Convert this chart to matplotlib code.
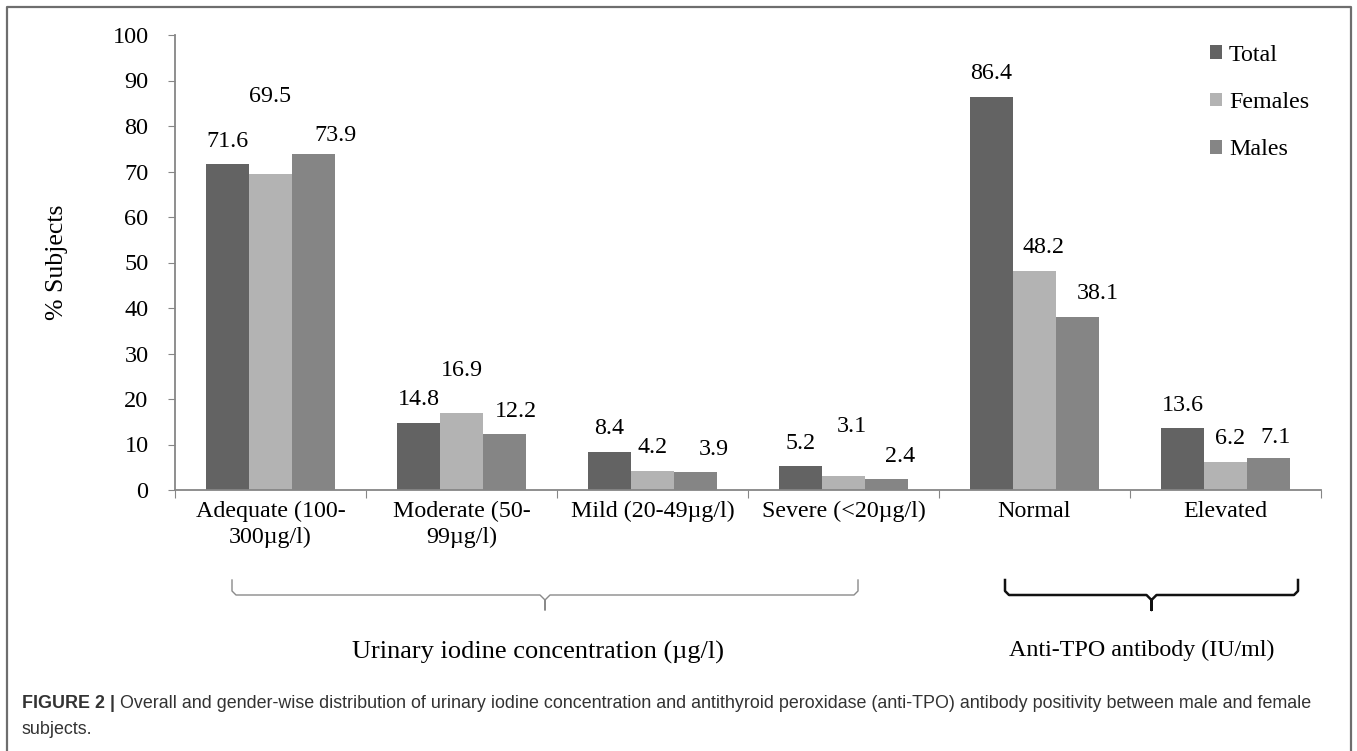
import numpy as np
import matplotlib
matplotlib.use("Agg")
import matplotlib.pyplot as plt
from matplotlib.lines import Line2D

plt.rcParams['font.family'] = ['Liberation Serif', 'DejaVu Serif']

# data
categories = ['Adequate (100-\n300µg/l)', 'Moderate (50-\n99µg/l)', 'Mild (20-49µg/l)',
              'Severe (<20µg/l)', 'Normal', 'Elevated']
series = ['Total', 'Females', 'Males']
total = [71.6, 14.8, 8.4, 5.2, 86.4, 13.6]
females = [69.5, 16.9, 4.2, 3.1, 48.2, 6.2]
males = [73.9, 12.2, 3.9, 2.4, 38.1, 7.1]
group_labels = ['Urinary iodine concentration (µg/l)', 'Anti-TPO antibody (IU/ml)']

colors = ['#636363', '#b3b3b3', '#858585']
# label nudges in pixels (dx, dy), like the manual moves in the original
nudges = [
    [(0, 0)] * 6,
    [(0, 54), (0, 20), (0, 0), (8, 26), (9, 0), (5, 0)],
    [(22, -5), (11, 0), (18, 0), (14, 0), (20, 0), (7, -3)],
]

W, H = 1357, 751
fig = plt.figure(figsize=(W / 100, H / 100), dpi=100)

def fx(px):
    return px / W

def fy(py):
    return 1 - py / H

ax = fig.add_axes([fx(175), fy(490), fx(1321) - fx(175), fy(35) - fy(490)])

x = np.arange(len(categories))
bw = 0.225
for i, (vals, name) in enumerate(zip([total, females, males], series)):
    pos = x + (i - 1) * bw
    ax.bar(pos, vals, width=bw, color=colors[i], label=name, zorder=2)
    for p, v, (dx, dy) in zip(pos, vals, nudges[i]):
        ax.annotate(f'{v}', (p, v), xytext=(dx, 23 + dy), textcoords='offset pixels',
                    ha='center', va='center', fontsize=17.3)

ax.set_xlim(-0.5, len(categories) - 0.5)
ax.set_ylim(0, 100)
ax.set_yticks(np.arange(0, 101, 10))
ax.set_xticks(np.arange(-0.5, len(categories), 1))
ax.set_xticklabels([])
ax.set_xticks(x, minor=True)
ax.set_xticklabels(categories, minor=True, fontsize=17.3, linespacing=1.25)
ax.tick_params(axis='x', which='minor', length=0, pad=8)
ax.tick_params(axis='x', which='major', length=6, color='#868686', direction='out')
ax.tick_params(axis='y', length=5, color='#868686', labelsize=17.5, pad=14)
for s in ['top', 'right']:
    ax.spines[s].set_visible(False)
for s in ['left', 'bottom']:
    ax.spines[s].set_color('#868686')
    ax.spines[s].set_linewidth(1.3)
ax.set_ylabel('% Subjects', fontsize=18.5, labelpad=32)

leg = ax.legend(loc='upper left', bbox_to_anchor=(fx(1200), fy(35)), bbox_transform=fig.transFigure,
                frameon=False, fontsize=17.3, handlelength=0.5, handleheight=0.5,
                handletextpad=0.3, labelspacing=1.1, borderaxespad=0)

# braces under the two groups
def brace(x0, x1, y, color, lw):
    xc = (x0 + x1) / 2
    pts = [(x0, y), (x0, y + 11), (x0 + 4, y + 15), (xc - 5, y + 15), (xc, y + 20), (xc, y + 30),
           (xc, y + 20), (xc + 5, y + 15), (x1 - 4, y + 15), (x1, y + 11), (x1, y)]
    xs = [fx(p[0]) for p in pts]
    ys = [fy(p[1]) for p in pts]
    fig.add_artist(Line2D(xs, ys, color=color, lw=lw, transform=fig.transFigure))

brace(232, 858, 580, '#8a8a8a', 1.0)
brace(1005, 1298, 580, '#111111', 1.8)
fig.text(fx(538), fy(652), group_labels[0], ha='center', va='center', fontsize=19)
fig.text(fx(1142), fy(650), group_labels[1], ha='center', va='center', fontsize=17.3)

# outer frame (open at bottom)
fig.add_artist(Line2D([fx(7), fx(7), fx(1351), fx(1351)], [0, fy(7), fy(7), 0],
                      color='#6e6e6e', lw=1.6, transform=fig.transFigure))

# caption
cap_font = ['Liberation Sans Narrow', 'Liberation Sans', 'DejaVu Sans']
t1 = fig.text(fx(22), fy(703), 'FIGURE 2 |', fontsize=12.9, fontweight='bold', color='#333333',
              va='center', family=cap_font)
fig.canvas.draw()
bb = t1.get_window_extent()
fig.text(bb.x1 / W + fx(5), fy(703),
         'Overall and gender-wise distribution of urinary iodine concentration and antithyroid '
         'peroxidase (anti-TPO) antibody positivity between male and female',
         fontsize=12.9, color='#333333', va='center', family=cap_font)
fig.text(fx(22), fy(729), 'subjects.', fontsize=12.9, color='#333333', va='center', family=cap_font)

fig.savefig('out.png', dpi=100)
